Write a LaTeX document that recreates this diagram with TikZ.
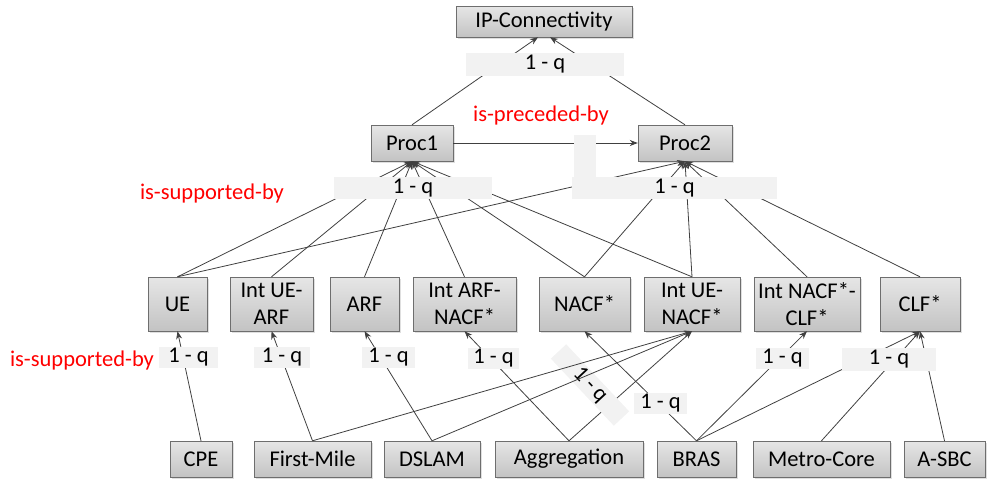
\documentclass[tikz,border=0pt]{standalone}
\usepackage{fontspec}
\setmainfont{Carlito}
\usetikzlibrary{arrows.meta,shadows}

\definecolor{boxtop}{HTML}{E6E6E6}
\definecolor{boxbot}{HTML}{C3C3C3}
\definecolor{boxline}{HTML}{6E6E6E}
\definecolor{edgeline}{HTML}{404040}
\definecolor{labelfill}{HTML}{F2F2F2}

\begin{document}
\begin{tikzpicture}[x=1pt,y=-1pt,
  box/.style={draw=boxline,top color=boxtop,bottom color=boxbot,minimum height=36pt,inner sep=0pt,align=center,
    font=\fontsize{22.5}{27}\selectfont,drop shadow={shadow xshift=1.5pt,shadow yshift=-1.5pt,opacity=0.25}},
  midbox/.style={box,minimum height=54pt},
  weight/.style={fill=labelfill,inner sep=0pt,minimum height=21pt,font=\fontsize{22.5}{26}\selectfont},
  relname/.style={text=red,inner sep=0pt,font=\fontsize{22.5}{26}\selectfont},
  link/.style={draw=edgeline,line width=0.8pt,-{Stealth[length=8pt,width=6pt]}}]
\useasboundingbox (0,0) rectangle (990,479);

% top levels
\node[box,minimum width=176pt,minimum height=31pt] (ip) at (544,21.5) {IP-Connectivity};
\node[box,minimum width=82pt] (proc1) at (412,143) {Proc1};
\node[box,minimum width=94pt] (proc2) at (685,143) {Proc2};

% functional entities
\node[midbox,minimum width=59pt] (ue) at (177.5,304) {UE};
\node[midbox,minimum width=83pt] (ueARF) at (271.5,304) {Int UE-\\ARF};
\node[midbox,minimum width=69pt] (arf) at (364.5,304) {ARF};
\node[midbox,minimum width=103pt] (arfNACF) at (464.5,304) {Int ARF-\\NACF*};
\node[midbox,minimum width=91pt] (nacf) at (584.5,304) {NACF*};
\node[midbox,minimum width=96pt] (ueNACF) at (692,304) {Int UE-\\NACF*};
\node[midbox,minimum width=106pt] (nacfCLF) at (807,304) {Int NACF*-\\CLF*};
\node[midbox,minimum width=80pt] (clf) at (920,304) {CLF*};

% network elements
\node[box,minimum width=62pt] (cpe) at (201,459) {CPE};
\node[box,minimum width=117pt] (firstmile) at (312.5,459) {First-Mile};
\node[box,minimum width=96pt] (dslam) at (432,459) {DSLAM};
\node[box,minimum width=148pt] (aggregation) at (569,459) {Aggregation};
\node[box,minimum width=79pt] (bras) at (696.5,459) {BRAS};
\node[box,minimum width=137pt] (metrocore) at (821.5,459) {Metro-Core};
\node[box,minimum width=81pt] (asbc) at (944.5,459) {A-SBC};

\draw[link] (proc1.north) -- ([xshift=-6pt]ip.south);
\draw[link] (proc2.north) -- ([xshift=6pt]ip.south);
\draw[link] (proc1.east) -- (proc2.west);

\foreach \n in {ue,ueARF,arf,arfNACF,nacf,ueNACF}
  \draw[link] (\n.north) -- (proc1.south);
\foreach \n in {ue,nacf,ueNACF,nacfCLF,clf}
  \draw[link] (\n.north) -- (proc2.south);

\draw[link] (aggregation.north) -- (ueNACF.south);
\node[weight,minimum width=92pt,rotate=-46.8] (wagg) at (590,385) {1 - q};

\draw[link] (cpe.north) -- (ue.south);
\draw[link] (firstmile.north) -- (ueARF.south);
\draw[link] (firstmile.north) -- (ueNACF.south);
\draw[link] (dslam.north) -- (arf.south);
\draw[link] (dslam.north) -- (ueNACF.south);
\draw[link] (aggregation.north) -- (arfNACF.south);
\draw[link] (bras.north) -- (nacf.south);
\draw[link] (bras.north) -- (nacfCLF.south);
\draw[link] (bras.north) -- (clf.south);
\draw[link] (metrocore.north) -- (clf.south);
\draw[link] (asbc.north) -- (clf.south);

% weights
\node[weight,minimum width=158pt,minimum height=23pt] (wip) at (545,64.5) {1 - q};
\node[weight,minimum width=158pt,minimum height=22pt] (wproc1) at (413,188) {1 - q};
\fill[labelfill] (574,135) rectangle (596,177.5);
\node[weight,minimum width=205pt,minimum height=22pt] (wproc2) at (674.5,188) {1 - q};
\node[weight,minimum width=59pt] (wue) at (188.5,357.5) {1 - q};
\node[weight,minimum width=56pt] (wueARF) at (282,357.5) {1 - q};
\node[weight,minimum width=53pt] (warf) at (388.5,357.5) {1 - q};
\node[weight,minimum width=51pt] (warfNACF) at (493.5,358.5) {1 - q};
\node[weight,minimum width=53pt] (wnacf) at (660.5,403.5) {1 - q};
\node[weight,minimum width=53pt] (wnacfCLF) at (782.5,358.5) {1 - q};
\node[weight,minimum width=94pt,minimum height=23pt] (wclf) at (889,359.5) {1 - q};

% relation names
\node[relname] (preceded) at (541,115) {is-preceded-by};
\node[relname] (supported1) at (212,193) {is-supported-by};
\node[relname] (supported2) at (82,360) {is-supported-by};
\end{tikzpicture}
\end{document}
